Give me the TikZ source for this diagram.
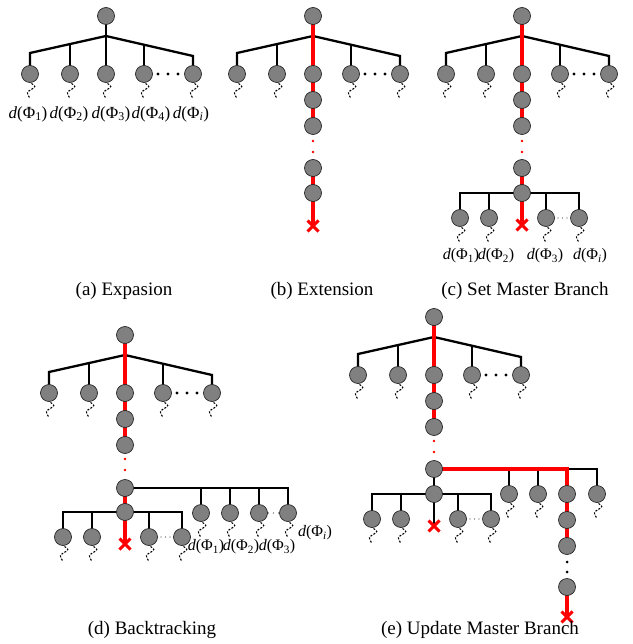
\documentclass[tikz,border=0pt]{standalone}
\usepackage{fontspec}
\setmainfont{Liberation Serif}
\usetikzlibrary{backgrounds,shapes.misc}

\tikzset{
  nd/.style={circle,draw=black!85,line width=0.7pt,fill=black!50,minimum size=17pt,inner sep=0pt},
  blk/.style={line width=2.3pt,black},
  mst/.style={line width=4pt,red},
  sq/.style={line width=1.1pt,dash pattern=on 2pt off 1.5pt,rounded corners=2.5pt},
  xm/.style={cross out,draw=red,line width=3pt,minimum size=8pt,inner sep=0pt},
  captxt/.style={font=\fontsize{19}{22}\selectfont,inner sep=0pt},
  lb/.style={font=\fontsize{17}{20}\selectfont,inner sep=0pt},
  lbs/.style={font=\fontsize{16}{19}\selectfont,inner sep=0pt},
}

% dashed wavy stub hanging below a leaf
\newcommand\squig[1]{\draw[sq] ([shift={(1.5,9.5)}]#1.center) -- ++(4.5,3) -- ++(-9.5,6) -- ++(3.5,6);}
% d(Phi_k) label text
\newcommand\dphi[1]{\textit{d}(Φ\textsubscript{#1})}

% first level: root, five children, fan of branches
\newcommand\toptree[3]{%
  \node[nd] (#1r) at (#2,#3) {};
  \foreach \k/\dx in {1/-76,2/-36,3/0,4/38,5/87}
    \node[nd] (#1\k) at ({#2+\dx},{#3+58}) {};
  \coordinate (#1j) at (#2,{#3+20});
  \coordinate (#1l) at ({#2-76},{#3+37});
  \coordinate (#1e) at ({#2+87},{#3+40});
  \coordinate (#1m) at ({#2-36},{#3+28});
  \coordinate (#1n) at ({#2+38},{#3+28.7});
  \foreach \dx in {52,62,72} \fill ({#2+\dx},{#3+58}) circle (1.6);
  \begin{pgfonlayer}{background}
    \draw[blk] (#11.center) -- (#1l) -- (#1j) -- (#1e) -- (#15.center);
    \draw[blk] (#1r.center) -- (#13.center);
    \draw[blk] (#1m) -- (#12.center);
    \draw[blk] (#1n) -- (#14.center);
  \end{pgfonlayer}
  \squig{#11}\squig{#12}\squig{#14}\squig{#15}
}

% lower level: sub-root on a bar, four children and a cut-off branch
\newcommand\subtree[4]{%
  \node[nd] (#1s) at (#2,#3) {};
  \foreach \k/\dx in {1/-62,2/-33,4/24,5/57}
    \node[nd] (#1\k) at ({#2+\dx},{#3+25}) {};
  \node[xm] (#1x) at (#2,{#3+32}) {};
  \coordinate (#1a) at ({#2-62},#3);
  \coordinate (#1b) at ({#2+57},#3);
  \foreach \dx in {36,40.5,45} \fill[black!70] ({#2+\dx},{#3+25}) circle (0.6);
  \begin{pgfonlayer}{background}
    \draw[blk] (#11.center) -- (#1a) -- (#1b) -- (#15.center);
    \draw[blk] (#12.center) -- (#12 |- #1s.center);
    \draw[blk] (#14.center) -- (#14 |- #1s.center);
    \draw[#4] (#1s.center) -- (#1x.center);
  \end{pgfonlayer}
  \squig{#11}\squig{#12}\squig{#14}\squig{#15}
}

\begin{document}
\begin{tikzpicture}[x=1pt,y=-1pt]
\useasboundingbox (0,0) rectangle (632,644);

% ---------------- (a) expansion
\toptree{a}{106}{16}
\squig{a3}
\node[lb] (la1) at (28,114) {\dphi{1}};
\node[lb] (la2) at (69,114) {\dphi{2}};
\node[lb] (la3) at (111,114) {\dphi{3}};
\node[lb] (la4) at (151,114) {\dphi{4}};
\node[lb] (la5) at (191,114) {\dphi{\textit{i}}};
\node[captxt] (capa) at (124,291) {(a) Expasion};

% ---------------- (b) extension
\toptree{b}{313}{16}
\node[nd] (b6) at (313,100) {};
\node[nd] (b7) at (313,126) {};
\node[nd] (b8) at (313,168) {};
\node[nd] (b9) at (313,193) {};
\node[xm] (bx) at (313,226) {};
\fill[red] (313,141) circle (1.4) (313,152) circle (1.4);
\begin{pgfonlayer}{background}
  \draw[mst] (br.center) -- (b3.center) -- (b6.center) -- (b7.center);
  \draw[mst] (b8.center) -- (b9.center) -- (bx.center);
\end{pgfonlayer}
\node[captxt] (capb) at (322,291) {(b) Extension};

% ---------------- (c) set master branch
\toptree{c}{522}{16}
\node[nd] (c6) at (522,100) {};
\node[nd] (c7) at (522,126) {};
\node[nd] (c8) at (522,168) {};
\subtree{cs}{522}{193}{mst}
\fill[red] (522,141) circle (1.4) (522,152) circle (1.4);
\begin{pgfonlayer}{background}
  \draw[mst] (cr.center) -- (c3.center) -- (c6.center) -- (c7.center);
  \draw[mst] (c8.center) -- (css.center);
\end{pgfonlayer}
\node[lbs] (lc1) at (461,256) {\dphi{1}};
\node[lbs] (lc2) at (496,256) {\dphi{2}};
\node[lbs] (lc3) at (545,256) {\dphi{3}};
\node[lbs] (lc4) at (590,256) {\dphi{\textit{i}}};
\node[captxt] (capc) at (525,291) {(c) Set Master Branch};

% ---------------- (d) backtracking
\toptree{d}{125}{335}
\node[nd] (d6) at (125,419) {};
\node[nd] (d7) at (125,445) {};
\node[nd] (d8) at (125,488) {};
\subtree{ds}{125}{512}{mst}
\foreach \k/\x in {1/201,2/230,3/259,4/288}
  \node[nd] (dt\k) at (\x,513) {};
\coordinate (dtb) at (288,488);
\foreach \x in {268.5,273.5,278.5} \fill[black!70] (\x,513) circle (0.6);
\fill[red] (125,459) circle (1.4) (125,470) circle (1.4);
\begin{pgfonlayer}{background}
  \draw[blk] (d8.center) -- (dtb) -- (dt4.center);
  \draw[blk] (dt1.center) -- (dt1 |- d8.center);
  \draw[blk] (dt2.center) -- (dt2 |- d8.center);
  \draw[blk] (dt3.center) -- (dt3 |- d8.center);
  \draw[mst] (dr.center) -- (d3.center) -- (d6.center) -- (d7.center);
  \draw[mst] (d8.center) -- (dss.center);
\end{pgfonlayer}
\squig{dt1}\squig{dt2}\squig{dt3}\squig{dt4}
\node[lbs] (ld1) at (206,547) {\dphi{1}};
\node[lbs] (ld2) at (241,547) {\dphi{2}};
\node[lbs] (ld3) at (277,547) {\dphi{3}};
\node[lbs] (ld4) at (315,533) {\dphi{\textit{i}}};
\node[captxt] (capd) at (152,630) {(d) Backtracking};

% ---------------- (e) update master branch
\toptree{e}{434}{317}
\node[nd] (e6) at (434,401) {};
\node[nd] (e7) at (434,427) {};
\node[nd] (e8) at (434,469) {};
\subtree{es}{434}{494}{blk}
\foreach \k/\x in {1/509,2/538,3/567,4/597}
  \node[nd] (et\k) at (\x,494) {};
\coordinate (etb) at (597,469);
\node[nd] (e9) at (567,520) {};
\node[nd] (e10) at (567,546) {};
\node[nd] (e11) at (567,587) {};
\node[xm] (ex) at (567,617) {};
\fill[red] (434,441) circle (1.4) (434,452) circle (1.4);
\fill (567,562) circle (1.5) (567,572) circle (1.5);
\begin{pgfonlayer}{background}
  \draw[blk] (e8.center) -- (etb) -- (et4.center);
  \draw[blk] (et1.center) -- (et1 |- e8.center);
  \draw[blk] (et2.center) -- (et2 |- e8.center);
  \draw[blk] (e8.center) -- (ess.center);
  \draw[mst] (er.center) -- (e3.center) -- (e6.center) -- (e7.center);
  \draw[mst] (e8.center) -- (et3 |- e8.center) -- (et3.center) -- (e9.center) -- (e10.center);
  \draw[mst] (e11.center) -- (ex.center);
\end{pgfonlayer}
\squig{et1}\squig{et2}\squig{et4}
\node[captxt] (cape) at (480,630) {(e) Update Master Branch};
\end{tikzpicture}
\end{document}
